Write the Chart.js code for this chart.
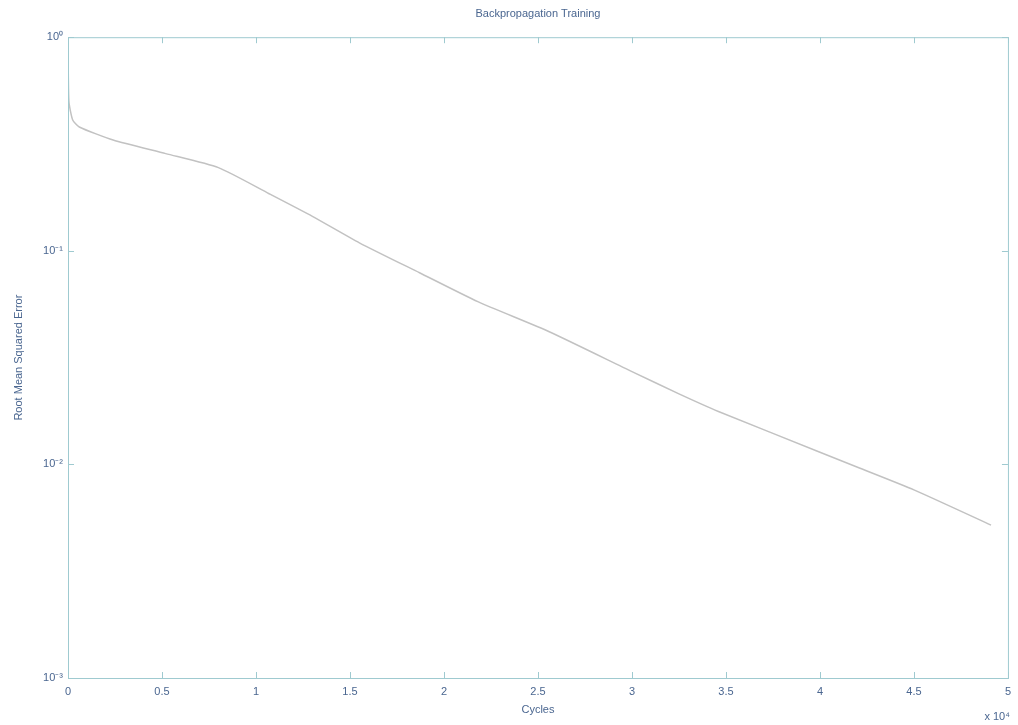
<!DOCTYPE html>
<html>
<head>
<meta charset="utf-8">
<script src="https://cdn.jsdelivr.net/npm/chart.js@4"></script>
<style>
  html, body { margin: 0; padding: 0; background: #fff; }
  #wrap { width: 1018px; height: 725px; }
</style>
</head>
<body>
<div id="wrap"><canvas id="errChart" width="1018" height="725"></canvas></div>
<script>
// training curve (cycles, rmse)
const cycles = [0, 50, 250, 600, 2400, 5200, 8000, 10700, 13000, 15500, 18700, 21800, 25600, 30000, 32500, 34600, 40000, 42000, 45000, 49100];
const rmse = [0.9, 0.5, 0.41, 0.38, 0.33, 0.285, 0.245, 0.185, 0.145, 0.109, 0.0789, 0.0578, 0.0418, 0.0272, 0.0214, 0.0177, 0.0114, 0.0097, 0.0076, 0.0052];

const xTicks = [0, 5000, 10000, 15000, 20000, 25000, 30000, 35000, 40000, 45000, 50000];
const xTickLabels = ['0', '0.5', '1', '1.5', '2', '2.5', '3', '3.5', '4', '4.5', '5'];
const yTicks = [0.001, 0.01, 0.1, 1];
const yTickLabels = ['10\u207B\u00B3', '10\u207B\u00B2', '10\u207B\u00B9', '10\u2070'];

const textColor = '#4a6690';
const axisColor = '#9fcad0';
const fontFam = '"Liberation Sans", Arial, sans-serif';

// box around the axes plus inward tick marks, matlab style
const frame = {
  id: 'frame',
  afterDraw(chart) {
    const { ctx, chartArea: a, scales } = chart;
    ctx.save();
    ctx.strokeStyle = axisColor;
    ctx.lineWidth = 1;
    ctx.strokeRect(a.left + 0.5, a.top + 0.5, a.right - a.left, a.bottom - a.top);
    ctx.beginPath();
    scales.x.ticks.forEach(t => {
      const px = Math.round(scales.x.getPixelForValue(t.value)) + 0.5;
      ctx.moveTo(px, a.bottom); ctx.lineTo(px, a.bottom - 6);
      ctx.moveTo(px, a.top); ctx.lineTo(px, a.top + 6);
    });
    scales.y.ticks.forEach(t => {
      const py = Math.round(scales.y.getPixelForValue(t.value)) + 0.5;
      ctx.moveTo(a.left, py); ctx.lineTo(a.left + 6, py);
      ctx.moveTo(a.right, py); ctx.lineTo(a.right - 6, py);
    });
    ctx.stroke();
    // exponent note under the x axis
    ctx.fillStyle = textColor;
    ctx.font = '11px ' + fontFam;
    ctx.textAlign = 'right';
    ctx.textBaseline = 'middle';
    ctx.fillText('x 10\u2074', a.right + 2, 717);
    ctx.restore();
  }
};

new Chart(document.getElementById('errChart'), {
  type: 'line',
  data: {
    datasets: [{
      label: 'RMSE',
      data: cycles.map((c, i) => ({ x: c, y: rmse[i] })),
      borderColor: '#c2c2c2',
      borderWidth: 1.5,
      pointRadius: 0,
      tension: 0.2,
      fill: false
    }]
  },
  options: {
    responsive: false,
    animation: false,
    layout: { padding: { left: 0, right: 0, top: 0, bottom: 0 } },
    plugins: {
      legend: { display: false },
      tooltip: { enabled: false },
      title: {
        display: true,
        text: 'Backpropagation Training',
        fullSize: false,
        color: textColor,
        font: { family: fontFam, size: 11, weight: 'normal' },
        padding: { top: 7, bottom: 17 }
      }
    },
    scales: {
      x: {
        type: 'linear',
        min: 0,
        max: 50000,
        afterBuildTicks: s => { s.ticks = xTicks.map(v => ({ value: v })); },
        afterFit: s => { s.height = 47; },
        grid: { display: false, drawTicks: false },
        border: { display: false },
        ticks: {
          color: textColor,
          font: { family: fontFam, size: 11 },
          padding: 7,
          maxRotation: 0,
          callback: v => xTickLabels[xTicks.indexOf(v)]
        },
        title: {
          display: true,
          text: 'Cycles',
          color: textColor,
          font: { family: fontFam, size: 11 },
          padding: { top: 0, bottom: 8 }
        }
      },
      y: {
        type: 'logarithmic',
        min: 0.001,
        max: 1,
        afterBuildTicks: s => { s.ticks = yTicks.map(v => ({ value: v })); },
        afterFit: s => { s.width = 68; },
        grid: { display: false, drawTicks: false },
        border: { display: false },
        ticks: {
          color: textColor,
          font: { family: fontFam, size: 11 },
          padding: 5,
          callback: v => yTickLabels[yTicks.indexOf(v)]
        },
        title: {
          display: true,
          text: 'Root Mean Squared Error',
          color: textColor,
          font: { family: fontFam, size: 11 },
          padding: { top: 12, bottom: 0 }
        }
      }
    }
  },
  plugins: [frame]
});
</script>
</body>
</html>
